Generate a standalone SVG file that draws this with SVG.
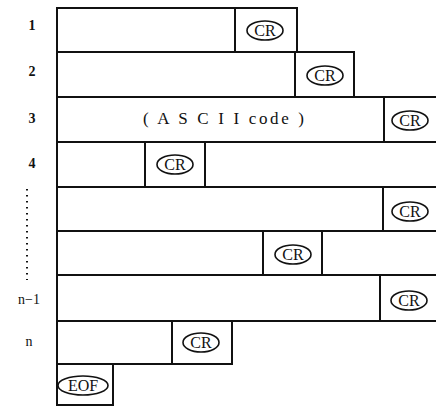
<svg xmlns="http://www.w3.org/2000/svg" width="436" height="407" viewBox="0 0 436 407">
<style>
.b{fill:none;stroke:#111;stroke-width:2}
.e{fill:none;stroke:#111;stroke-width:1.6}
.t{font-family:"Liberation Serif","DejaVu Serif",serif;fill:#111}
.cr{font-size:16px;text-anchor:middle}
.lb{font-size:14px;text-anchor:middle;font-weight:bold}
.ln{font-size:14px;text-anchor:middle}
</style>
<rect width="436" height="407" fill="#fff"/>
<g id="labels">
<text class="t lb" x="32" y="30">1</text>
<text class="t lb" x="32" y="76">2</text>
<text class="t lb" x="32" y="123">3</text>
<text class="t lb" x="32" y="168">4</text>
<line x1="27" y1="189" x2="27" y2="280" stroke="#111" stroke-width="2" stroke-dasharray="1.6 4.4"/>
<text class="t ln" x="29" y="304">n−1</text>
<text class="t ln" x="29" y="346">n</text>
</g>
<g id="row1">
<rect class="b" x="57" y="8" width="240" height="44"/>
<line class="b" x1="235" y1="8" x2="235" y2="52"/>
<ellipse class="e" cx="265" cy="30.5" rx="18" ry="9.5"/>
<text class="t cr" x="265" y="36">CR</text>
</g>
<g id="row2">
<rect class="b" x="57" y="52" width="297" height="45"/>
<line class="b" x1="295" y1="52" x2="295" y2="97"/>
<ellipse class="e" cx="325" cy="75.5" rx="18" ry="9.5"/>
<text class="t cr" x="325" y="81">CR</text>
</g>
<g id="row3">
<path class="b" d="M437 97 H57 V142 H437"/>
<line class="b" x1="384" y1="97" x2="384" y2="142"/>
<text class="t" x="143" y="124" font-size="17" textLength="161" lengthAdjust="spacing">( A S C I I code )</text>
<ellipse class="e" cx="410" cy="120.5" rx="18" ry="9.5"/>
<text class="t cr" x="410" y="126">CR</text>
</g>
<g id="row4">
<path class="b" d="M437 142 H57 V187 H437"/>
<line class="b" x1="145" y1="142" x2="145" y2="187"/>
<line class="b" x1="205" y1="142" x2="205" y2="187"/>
<ellipse class="e" cx="175" cy="164.5" rx="18" ry="9.5"/>
<text class="t cr" x="175" y="170">CR</text>
</g>
<g id="row5">
<path class="b" d="M437 187 H57 V231 H437"/>
<line class="b" x1="383" y1="187" x2="383" y2="231"/>
<ellipse class="e" cx="410" cy="211.5" rx="18" ry="9.5"/>
<text class="t cr" x="410" y="217">CR</text>
</g>
<g id="row6">
<path class="b" d="M437 231 H57 V275 H437"/>
<line class="b" x1="263" y1="231" x2="263" y2="275"/>
<line class="b" x1="322" y1="231" x2="322" y2="275"/>
<ellipse class="e" cx="293" cy="254.5" rx="18" ry="9.5"/>
<text class="t cr" x="293" y="260">CR</text>
</g>
<g id="rowN1">
<path class="b" d="M437 275 H57 V321 H437"/>
<line class="b" x1="380" y1="275" x2="380" y2="321"/>
<ellipse class="e" cx="409" cy="300.5" rx="18" ry="9.5"/>
<text class="t cr" x="409" y="306">CR</text>
</g>
<g id="rowN">
<rect class="b" x="57" y="321" width="175" height="43"/>
<line class="b" x1="172" y1="321" x2="172" y2="364"/>
<ellipse class="e" cx="201" cy="342.5" rx="18" ry="9.5"/>
<text class="t cr" x="201" y="348">CR</text>
</g>
<g id="eof">
<rect class="b" x="57" y="364" width="56" height="41"/>
<ellipse class="e" cx="83" cy="385.5" rx="25" ry="9.5"/>
<text class="t cr" x="83" y="391">EOF</text>
</g>
</svg>
